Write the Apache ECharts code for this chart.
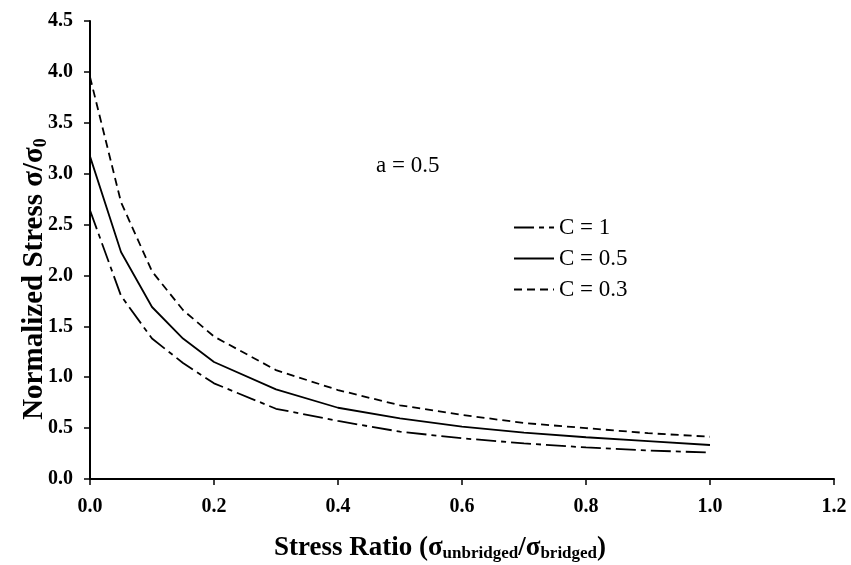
<!DOCTYPE html>
<html>
<head>
<meta charset="utf-8">
<script src="https://cdn.jsdelivr.net/npm/echarts@6/dist/echarts.min.js"></script>
<style>
  html, body { margin: 0; padding: 0; background: #fff; }
  #main { width: 851px; height: 565px; }
</style>
</head>
<body>
<div id="main"></div>
<script>
(function() {
  'use strict';
  var echarts = window.echarts;

  // 数据
  var ratio = [0, 0.05, 0.1, 0.15, 0.2, 0.3, 0.4, 0.5, 0.6, 0.7, 0.8, 0.9, 1.0];
  var c1 = [2.64, 1.80, 1.38, 1.14, 0.94, 0.69, 0.57, 0.465, 0.40, 0.35, 0.31, 0.28, 0.26];
  var c05 = [3.17, 2.23, 1.69, 1.38, 1.15, 0.88, 0.70, 0.596, 0.514, 0.455, 0.41, 0.373, 0.334];
  var c03 = [3.95, 2.72, 2.04, 1.66, 1.40, 1.07, 0.874, 0.724, 0.63, 0.55, 0.50, 0.45, 0.415];
  var names = ['C = 1', 'C = 0.5', 'C = 0.3'];

  var serif = 'Liberation Serif';

  function pairs(ys) {
    var out = [];
    for (var i = 0; i < ratio.length; i++) {
      out.push([ratio[i], ys[i]]);
    }
    return out;
  }

  function line(name, ys, dash) {
    return {
      name: name,
      type: 'line',
      data: pairs(ys),
      symbol: 'none',
      smooth: false,
      lineStyle: { color: '#000', width: 1.8, type: dash },
      itemStyle: { color: '#000' }
    };
  }

  var myChart = echarts.init(document.getElementById('main'));

  var option = {
    animation: false,
    backgroundColor: '#fff',
    grid: { left: 90, right: 17, top: 21, bottom: 86 },
    legend: {
      orient: 'vertical',
      left: 508,
      top: 211,
      itemWidth: 40,
      itemHeight: 14,
      itemGap: 8,
      data: names,
      itemStyle: { opacity: 0 },   // 图例里不要圆点，只留线
      textStyle: { fontFamily: serif, fontSize: 23, color: '#000' }
    },
    xAxis: {
      type: 'value',
      min: 0,
      max: 1.2,
      interval: 0.2,
      axisLine: { lineStyle: { color: '#000', width: 2 } },
      axisTick: { length: 6, lineStyle: { color: '#000', width: 1.5 } },
      splitLine: { show: false },
      axisLabel: {
        margin: 18,
        fontFamily: serif,
        fontWeight: 'bold',
        fontSize: 20,
        color: '#000',
        formatter: function(v) { return v.toFixed(1); }
      }
    },
    yAxis: {
      type: 'value',
      min: 0,
      max: 4.5,
      interval: 0.5,
      axisLine: { show: true, lineStyle: { color: '#000', width: 2 } },
      axisTick: { show: true, length: 6, lineStyle: { color: '#000', width: 1.5 } },
      splitLine: { show: false },
      axisLabel: {
        margin: 17,
        fontFamily: serif,
        fontWeight: 'bold',
        fontSize: 20,
        color: '#000',
        formatter: function(v) { return v.toFixed(1); }
      }
    },
    graphic: [
      {
        type: 'text',
        left: 376,
        top: 154,
        style: { text: 'a = 0.5', fontFamily: serif, fontSize: 23, fill: '#000' }
      },
      {
        type: 'text',
        x: 440,
        y: 548,
        style: {
          text: '{b|Stress Ratio (σ}{s|unbridged}{b|/σ}{s|bridged}{b|)}',
          align: 'center',
          verticalAlign: 'middle',
          rich: {
            b: { fontFamily: serif, fontWeight: 'bold', fontSize: 27, fill: '#000' },
            s: { fontFamily: serif, fontWeight: 'bold', fontSize: 17, fill: '#000', padding: [12, 0, 0, 0] }
          }
        }
      },
      {
        type: 'text',
        x: 35,
        y: 279,
        rotation: Math.PI / 2,
        style: {
          text: '{b|Normalized Stress σ/σ}{s|0}',
          align: 'center',
          verticalAlign: 'middle',
          rich: {
            b: { fontFamily: serif, fontWeight: 'bold', fontSize: 29, fill: '#000' },
            s: { fontFamily: serif, fontWeight: 'bold', fontSize: 18, fill: '#000', padding: [13, 0, 0, 0] }
          }
        }
      }
    ],
    series: [
      line(names[0], c1, [20, 5, 5, 5]),
      line(names[1], c05, 'solid'),
      line(names[2], c03, [8, 5])
    ]
  };

  myChart.setOption(option);

}());
</script>
</body>
</html>
